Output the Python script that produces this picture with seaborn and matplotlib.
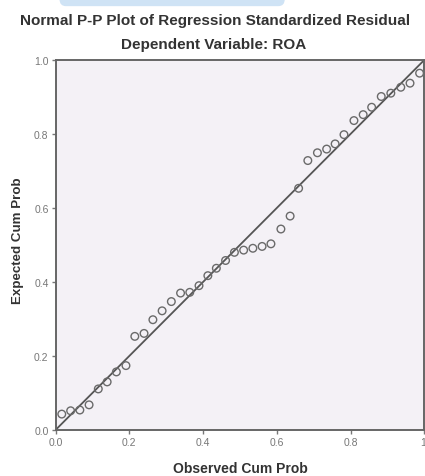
import pandas as pd
import seaborn as sns
from matplotlib import pyplot as plt
from matplotlib.patches import FancyBboxPatch

# observed vs expected cumulative probabilities
observed = [0.017, 0.041, 0.066, 0.091, 0.116, 0.140, 0.165, 0.191, 0.215, 0.240,
            0.264, 0.289, 0.314, 0.339, 0.364, 0.389, 0.413, 0.436, 0.461, 0.485,
            0.510, 0.535, 0.560, 0.584, 0.611, 0.636, 0.659, 0.684, 0.710, 0.735,
            0.758, 0.782, 0.809, 0.834, 0.857, 0.883, 0.909, 0.936, 0.961, 0.987]
expected = [0.043, 0.052, 0.054, 0.068, 0.111, 0.130, 0.157, 0.174, 0.253, 0.261,
            0.298, 0.322, 0.347, 0.370, 0.372, 0.390, 0.417, 0.437, 0.458, 0.480,
            0.486, 0.491, 0.496, 0.503, 0.543, 0.578, 0.653, 0.728, 0.749, 0.759,
            0.773, 0.798, 0.836, 0.852, 0.872, 0.901, 0.910, 0.926, 0.937, 0.964]
ref_line = [0.0, 1.0]
ticks = [0.0, 0.2, 0.4, 0.6, 0.8, 1.0]
xtick_labels = ["0.0", "0.2", "0.4", "0.6", "0.8", "1."]
ytick_labels = ["0.0", "0.2", "0.4", "0.6", "0.8", "1.0"]

sns.set_style("ticks")
plt.rcParams["font.family"] = ["Liberation Sans", "DejaVu Sans"]

pp_df = pd.DataFrame({"observed": observed, "expected": expected})
line_df = pd.DataFrame({"x": ref_line, "y": ref_line})

fig = plt.figure(figsize=(4.25, 4.77), dpi=100)
ax = fig.add_axes([0.1306, 0.0964, 0.868, 0.776])
ax.set_facecolor("#f4f1f6")

sns.lineplot(data=line_df, x="x", y="y", ax=ax, color="#555555", linewidth=1.3)
sns.scatterplot(data=pp_df, x="observed", y="expected", ax=ax, s=30,
                facecolor="none", edgecolor="#6a6a6a", linewidth=1.0, zorder=3)

ax.set_xlim(0, 1)
ax.set_ylim(0, 1)
ax.set_xticks(ticks)
ax.set_xticklabels(xtick_labels)
ax.set_yticks(ticks)
ax.set_yticklabels(ytick_labels)
ax.tick_params(labelsize=7.5, colors="#777777", length=3, width=1, pad=2)
for sp in ax.spines.values():
    sp.set_color("#666666")
    sp.set_linewidth(1.4)

ax.set_xlabel("Observed Cum Prob", fontsize=10, fontweight="bold", color="#333333", labelpad=10)
ax.set_ylabel("Expected Cum Prob", fontsize=9.6, fontweight="bold", color="#333333")
ax.yaxis.set_label_coords(-0.085, 0.515)

fig.text(0.505, 0.957, "Normal P-P Plot of Regression Standardized Residual",
         ha="center", va="center", fontsize=11, fontweight="bold", color="#333333")
fig.text(0.502, 0.906, "Dependent Variable: ROA",
         ha="center", va="center", fontsize=11, fontweight="bold", color="#333333")

# light blue strip cut off at the top edge of the screenshot
fig.patches.append(FancyBboxPatch((0.14, 0.985), 0.53, 0.04, boxstyle="round,pad=0.0,rounding_size=0.015",
                                  transform=fig.transFigure, facecolor="#cfe3f5", edgecolor="none"))

fig.savefig("out.png", dpi=100)
